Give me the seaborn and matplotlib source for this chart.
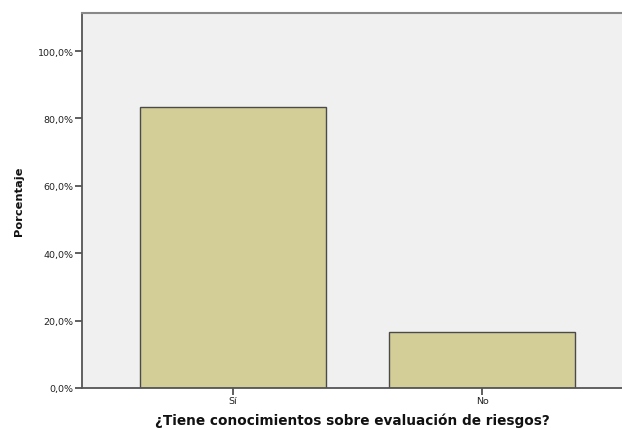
import matplotlib
matplotlib.use("Agg")
import matplotlib.pyplot as plt
import seaborn as sns
import pandas as pd
from matplotlib.ticker import FuncFormatter

categories = ["Sí", "No"]
percentages = [83.3, 16.7]
yticks = [0, 20, 40, 60, 80, 100]

sns.set_style("white")
plt.rcParams['font.family'] = ['DejaVu Sans']

df = pd.DataFrame({"cat": categories, "pct": percentages})

fig = plt.figure(figsize=(6.22, 4.31), dpi=100)
ax = fig.add_axes([82/622, 42/431, 1 - 82/622, (389-14)/431])
ax.set_facecolor("#F0F0F0")

sns.barplot(data=df, x="cat", y="pct", order=categories, color="#D3CE97",
            saturation=1, width=0.75, edgecolor="#4a4a4a", linewidth=1.0, ax=ax)

ax.set_xlim(-0.606, 1.562)
ax.set_ylim(0, 111.3)
ax.set_yticks(yticks)
ax.yaxis.set_major_formatter(FuncFormatter(lambda v, p: f"{v:.1f}%".replace(".", ",")))

ax.tick_params(axis="both", direction="out", length=5, width=1.2, color="#444444",
               labelsize=6.8, labelcolor="#222222", pad=1, left=True, bottom=True)

for s in ["left", "bottom"]:
    ax.spines[s].set_color("#555555")
    ax.spines[s].set_linewidth(1.3)
ax.spines["top"].set_color("#888888")
ax.spines["top"].set_linewidth(1.5)
ax.spines["right"].set_visible(False)

ax.set_xlabel("¿Tiene conocimientos sobre evaluación de riesgos?", fontsize=9.8,
              fontweight="bold", labelpad=5, color="#111111")
ax.set_ylabel("Porcentaje", fontsize=8.2, fontweight="bold", labelpad=10, color="#111111")

fig.savefig("out.png", dpi=100)
